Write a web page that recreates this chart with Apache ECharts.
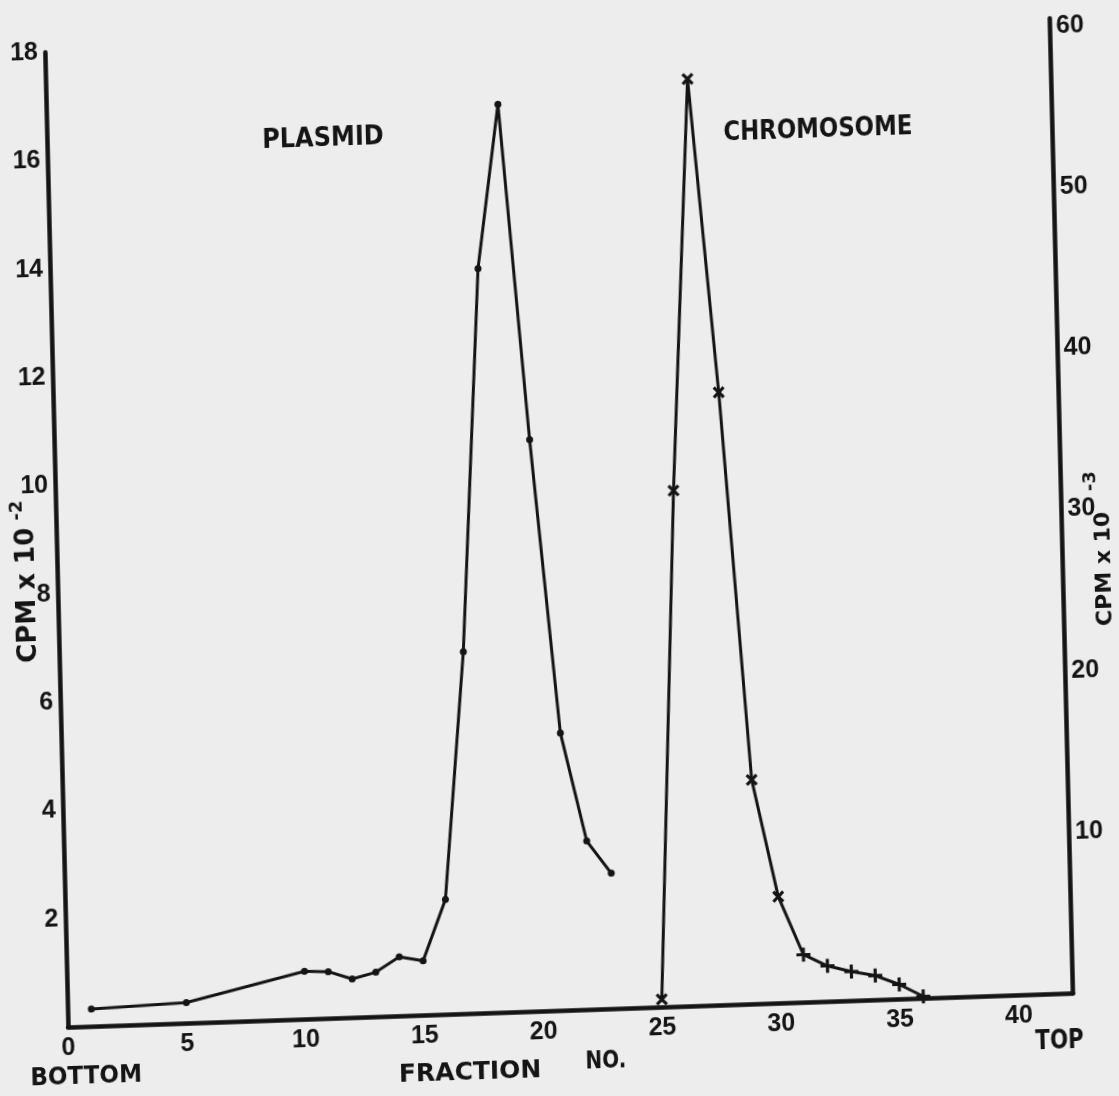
<!DOCTYPE html>
<html>
<head>
<meta charset="utf-8">
<script src="https://cdn.jsdelivr.net/npm/echarts@6/dist/echarts.min.js"></script>
<style>
  html, body { margin: 0; padding: 0; width: 1119px; height: 1096px; overflow: hidden; background: #ededed; }
  /* the photographed sheet is slightly tilted / sheared */
  #chart { position: absolute; left: 0; top: 0; width: 1180px; height: 1140px;
           transform-origin: 71px 1027px;
           transform: matrix(0.99943, -0.03385, 0.02373, 0.99972, 0, 0); }
</style>
</head>
<body>
<div id="chart"></div>
<script>
// ---- data ----
const plasmidFractions = [1, 5, 10, 11, 12, 13, 14, 15, 16, 17, 18, 19, 20, 21, 22, 23];
const plasmidCpm = [0.32, 0.38, 0.88, 0.86, 0.71, 0.82, 1.09, 1.00, 2.12, 6.68, 13.74, 16.76, 10.55, 5.12, 3.11, 2.50]; // CPM x 10^-2
const chromosomeFractions = [25, 26, 27, 28, 29, 30, 31, 32, 33, 34, 35, 36];
const chromosomeCpm = [0.47, 32.0, 57.5, 38.0, 13.9, 6.6, 2.95, 2.2, 1.8, 1.5, 0.9, 0.11]; // CPM x 10^-3
const fractionTicks = [0, 5, 10, 15, 20, 25, 30, 35, 40];
const leftTicks = [2, 4, 6, 8, 10, 12, 14, 16, 18];
const rightTicks = [10, 20, 30, 40, 50, 60];

const INK = '#141414';
const TICK_FONT = "'Liberation Sans', Arial, sans-serif";
const TEXT_FONT = "'DejaVu Sans', Verdana, sans-serif";
const PLUS = 'path://M-1.35,-6 L1.35,-6 L1.35,-1.35 L6,-1.35 L6,1.35 L1.35,1.35 L1.35,6 L-1.35,6 L-1.35,1.35 L-6,1.35 L-6,-1.35 L-1.35,-1.35 Z';

const axisLine = { show: true, onZero: false, lineStyle: { color: INK, width: 4.5, cap: 'round' } };
const labelBase = { color: INK, fontSize: 25, fontFamily: TICK_FONT, fontWeight: 'bold' };

function txt(text, x, y, size, opts) {
  opts = opts || {};
  return {
    type: 'text', x: x, y: y, rotation: opts.rot || 0, scaleX: opts.sx || 1, z: 10,
    style: { text: text, fill: INK, fontSize: size, fontFamily: TEXT_FONT, fontWeight: opts.weight || 'bold',
             align: 'center', verticalAlign: 'middle' }
  };
}

const chart = echarts.init(document.getElementById('chart'), null, { renderer: 'canvas' });
chart.setOption({
  backgroundColor: 'transparent',
  animation: false,
  grid: { left: 68, top: 52, width: 1005.6, height: 975 },
  xAxis: {
    type: 'value', min: 0, max: 42.3, interval: 5,
    axisLine: axisLine, axisTick: { show: false }, splitLine: { show: false },
    axisLabel: Object.assign({ margin: 9, showMaxLabel: false,
      formatter: v => fractionTicks.includes(v) ? String(v) : '' }, labelBase)
  },
  yAxis: [
    {
      type: 'value', position: 'left', min: 0, max: 18, interval: 2,
      axisLine: axisLine, axisTick: { show: false }, splitLine: { show: false },
      axisLabel: Object.assign({ margin: 7, showMinLabel: false,
        formatter: v => leftTicks.includes(v) ? String(v) : '' }, labelBase)
    },
    {
      type: 'value', position: 'right', min: 0, max: 60.5, interval: 10,
      axisLine: axisLine, axisTick: { show: false }, splitLine: { show: false },
      axisLabel: Object.assign({ margin: 6, showMinLabel: false, showMaxLabel: false,
        formatter: v => rightTicks.includes(v) ? String(v) : '' }, labelBase)
    }
  ],
  series: [
    {
      name: 'PLASMID', type: 'line', yAxisIndex: 0,
      data: plasmidFractions.map((f, i) => [f, plasmidCpm[i]]),
      symbol: 'circle', symbolSize: 7, showAllSymbol: true,
      lineStyle: { color: INK, width: 3 }, itemStyle: { color: INK }, z: 3
    },
    {
      name: 'CHROMOSOME', type: 'line', yAxisIndex: 1,
      data: chromosomeFractions.map((f, i) => ({ value: [f, chromosomeCpm[i]], symbolRotate: f <= 30 ? 45 : 0 })),
      symbol: PLUS, symbolSize: 14, showAllSymbol: true,
      lineStyle: { color: INK, width: 3 }, itemStyle: { color: INK }, z: 3
    }
  ],
  graphic: [
    txt('PLASMID', 344, 148, 27, { sx: 0.89 }),
    txt('CHROMOSOME', 839, 156, 27, { sx: 0.845 }),
    txt('BOTTOM', 85, 1078, 24, { sx: 0.96 }),
    txt('FRACTION', 469, 1086, 25),
    txt('NO.', 605, 1079, 25, { sx: 0.8 }),
    txt('TOP', 1059, 1075, 26, { sx: 0.82 }),
    txt('CPM x 10', 38, 594, 26, { rot: Math.PI / 2 }),
    txt('-2', 29, 509, 18, { rot: Math.PI / 2 }),
    txt('CPM x 10', 1115, 604, 22, { rot: Math.PI / 2 }),
    txt('-3', 1103, 516, 18, { rot: Math.PI / 2 })
  ]
});
</script>
</body>
</html>
